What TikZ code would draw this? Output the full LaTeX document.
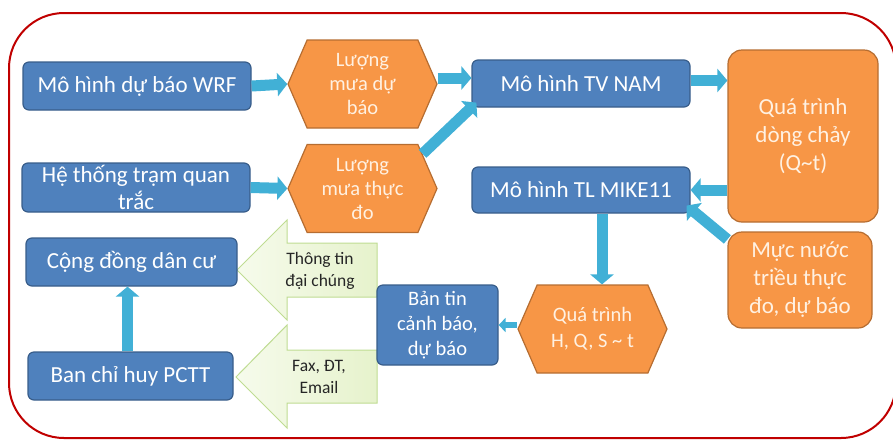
\documentclass[tikz,border=0pt]{standalone}
\usepackage{fontspec}
\setmainfont{Carlito}
\usetikzlibrary{shapes.symbols,arrows.meta}
\definecolor{blueF}{HTML}{4F81BD}
\definecolor{blueD}{HTML}{385D8A}
\definecolor{orangeF}{HTML}{F79646}
\definecolor{orangeD}{HTML}{B66D31}
\definecolor{creamT}{HTML}{FFF1E2}
\definecolor{cyanF}{HTML}{41B0D6}
\definecolor{greenF}{HTML}{E6F2CC}
\definecolor{greenL}{HTML}{F6FBEC}
\definecolor{greenD}{HTML}{BFDC92}
\definecolor{frameR}{HTML}{C00000}
\begin{document}
\begin{tikzpicture}[x=1pt,y=-1pt,
  bluebox/.style={rectangle, rounded corners=6pt, fill=blueF, draw=blueD, line width=1.2pt,
    text=white, font=\fontsize{23}{27}\selectfont, align=center, inner sep=0pt},
  orangebox/.style={rectangle, rounded corners=14pt, fill=orangeF, draw=orangeD, line width=1.2pt,
    text=creamT, font=\fontsize{23}{28}\selectfont, align=center, inner sep=0pt},
  hexbox/.style={signal, signal to=east and west, signal pointer angle=133,
    fill=orangeF, draw=orangeD, line width=1.2pt, text=creamT,
    font=\fontsize{20.5}{24}\selectfont, align=center, inner sep=0pt,
    minimum width=149pt, minimum height=88pt},
  greenarrow/.style={left color=greenL, right color=greenF, draw=greenD, line width=1pt},
  greentext/.style={text=black!85, font=\fontsize{17.5}{22}\selectfont, align=center, inner sep=0pt},
  flow/.style={draw=cyanF, line width=11pt, -{Triangle[length=10pt 0 0, width=23pt 0 0]}},
  smallflow/.style={draw=cyanF, line width=6pt, -{Triangle[length=7pt 0 0, width=14pt 0 0]}}
]
\useasboundingbox (0,0) rectangle (893,440);
\draw[frameR, line width=2pt, rounded corners=55pt] (9,13) rectangle (896,438);

% green block arrows
\path[greenarrow] (237,270) -- (287,220) -- (287,243) -- (377,243) -- (377,297) -- (287,297) -- (287,320) -- cycle;
\path[greenarrow] (236,377) -- (287,325) -- (287,350) -- (377,350) -- (377,403) -- (287,403) -- (287,428) -- cycle;
\node[greentext] (g1) at (320,271) {Thông tin\\đại chúng};
\node[greentext] (g2) at (319,377) {Fax, ĐT,\\Email};

% blue boxes
\node[bluebox, minimum width=228pt, minimum height=48pt] (wrf) at (137,86) {Mô hình dự báo WRF};
\node[bluebox, minimum width=228pt, minimum height=49pt] (tram) at (136,187.5) {Hệ thống trạm quan\\trắc};
\node[bluebox, minimum width=218pt, minimum height=47pt] (tv) at (581,83.5) {Mô hình TV NAM};
\node[bluebox, minimum width=218pt, minimum height=46pt] (mike) at (581,190) {Mô hình TL MIKE11};
\node[bluebox, minimum width=121pt, minimum height=80pt, font=\fontsize{20.5}{25}\selectfont] (bt) at (437.5,325) {Bản tin\\cảnh báo,\\dự báo};
\node[bluebox, minimum width=211pt, minimum height=48pt] (cd) at (131.5,262) {Cộng đồng dân cư};
\node[bluebox, minimum width=205pt, minimum height=48pt] (bch) at (130.5,376) {Ban chỉ huy PCTT};

% orange boxes
\node[orangebox, minimum width=150pt, minimum height=172pt] (qt) at (803,136) {Quá trình\\dòng chảy\\(Q\textasciitilde t)};
\node[orangebox, minimum width=144pt, minimum height=96pt] (muc) at (800,280) {Mực nước\\triều thực\\đo, dự báo};

% hexagons
\node[hexbox] (h1) at (362.5,84) {Lượng\\mưa dự\\báo};
\node[hexbox] (h2) at (362.5,188.5) {Lượng\\mưa thực\\đo};
\node[hexbox, font=\fontsize{20.5}{26}\selectfont] (h3) at (592.5,329) {Quá trình\\H, Q, S \textasciitilde{} t};

% connectors
\draw[flow] (wrf.east) -- (h1.west);
\draw[flow] (tram.east) -- (h2.west);
\draw[flow] ([yshift=6pt]h1.east) -- ([yshift=6pt]h1.east -| tv.west);
\draw[flow] (h2.30) -- ([shift={(5pt,5pt)}]tv.south west);
\draw[flow] ([yshift=3pt]tv.east) -- ([yshift=3pt]tv.east -| qt.west);
\draw[flow] (mike.east -| qt.west) -- (mike.east);
\draw[flow] ([yshift=-8pt]muc.north west) -- ([shift={(-4pt,8pt)}]mike.south east);
\draw[flow] ([xshift=21pt]mike.south) -- ([xshift=21pt]mike.south |- h3.north);
\draw[smallflow] ([yshift=4pt]h3.west) -- ([yshift=4pt]h3.west -| bt.east);
\draw[flow] ([xshift=-3pt]bch.north) -- ([xshift=-3pt]bch.north |- cd.south);
\end{tikzpicture}
\end{document}
